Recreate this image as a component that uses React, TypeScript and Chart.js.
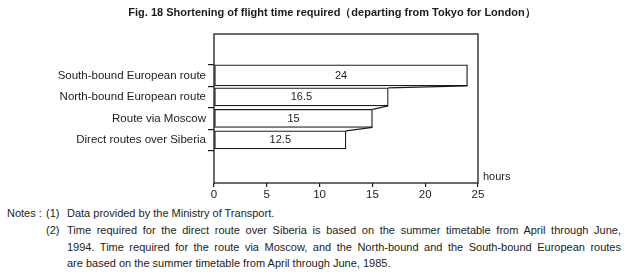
import React, { useEffect, useRef } from 'react';
import { Chart, registerables } from 'chart.js';

Chart.register(...registerables);

const TITLE = 'Fig. 18 Shortening of flight time required（departing from Tokyo for London）';
const ROUTES = [
  'South-bound European route',
  'North-bound European route',
  'Route via Moscow',
  'Direct routes over Siberia',
];
const HOURS = [24, 16.5, 15, 12.5];
const X_MIN = 0;
const X_MAX = 25;
const X_STEP = 5;
const UNIT_LABEL = 'hours';
const NOTE_HEAD = 'Notes :';
const NOTE_1 = 'Data provided by the Ministry of Transport.';
const NOTE_2A = 'Time required for the direct route over Siberia is based on the summer timetable from April through June,';
const NOTE_2B = '1994.  Time required for the route via Moscow, and the North-bound and the South-bound European routes';
const NOTE_2C = 'are based on the summer timetable from April through June, 1985.';

const INK = '#1c1c1c';
const FONT = '"Liberation Sans", Arial, sans-serif';

const framePlugin = {
  id: 'frameAndLabels',
  beforeDatasetsDraw(chart: any) {
    const { ctx, chartArea: a } = chart;
    ctx.save();
    ctx.strokeStyle = INK;
    ctx.lineWidth = 1.3;
    ctx.strokeRect(a.left, a.top, a.right - a.left, a.bottom - a.top);
    ctx.restore();
  },
  afterDatasetsDraw(chart: any) {
    const { ctx, chartArea: a } = chart;
    const bars: any[] = [];
    chart.data.datasets.forEach((ds: any, di: number) => {
      chart.getDatasetMeta(di).data.forEach((el: any, i: number) => {
        const p = el.getProps(['x', 'y', 'base', 'height'], true);
        bars.push({ ...p, v: ds.data[i].x });
      });
    });
    bars.sort((p, q) => p.y - q.y);
    ctx.save();
    ctx.strokeStyle = INK;
    ctx.lineWidth = 1.3;
    for (let i = 0; i < bars.length - 1; i++) {
      const b = bars[i];
      const n = bars[i + 1];
      ctx.beginPath();
      ctx.moveTo(b.x, b.y + b.height / 2);
      ctx.lineTo(n.x, n.y - n.height / 2);
      ctx.stroke();
    }
    ctx.fillStyle = INK;
    ctx.font = `11px ${FONT}`;
    ctx.textAlign = 'center';
    ctx.textBaseline = 'middle';
    bars.forEach((b) => {
      ctx.fillText(String(b.v), (b.base + b.x) / 2, b.y + 0.5);
    });
    ctx.textAlign = 'left';
    ctx.fillText(UNIT_LABEL, a.right + 5, a.bottom - 6);
    ctx.restore();
  },
};

function ChartBox() {
  const ref = useRef<HTMLCanvasElement | null>(null);
  useEffect(() => {
    if (!ref.current) return;
    const points = HOURS.map((h, i) => ({ x: h, y: i }));
    const chart = new Chart(ref.current, {
      type: 'bar',
      data: {
        datasets: [
          {
            data: points.slice(0, 1),
            backgroundColor: '#ffffff',
            borderColor: INK,
            borderWidth: 1.3,
            borderSkipped: false,
            barThickness: 21,
          } as any,
          {
            data: points.slice(1),
            backgroundColor: '#ffffff',
            borderColor: INK,
            borderWidth: 1.3,
            borderSkipped: false,
            barThickness: 18,
          } as any,
        ],
      },
      options: {
        indexAxis: 'y',
        responsive: false,
        animation: false,
        devicePixelRatio: 1,
        grouped: false,
        layout: { padding: { top: 34, right: 154, left: 0, bottom: 0 } },
        plugins: {
          legend: { display: false },
          tooltip: { enabled: false },
          title: { display: false },
        },
        scales: {
          x: {
            type: 'linear',
            position: 'bottom',
            min: X_MIN,
            max: X_MAX,
            ticks: {
              stepSize: X_STEP,
              color: INK,
              font: { family: FONT, size: 11.5 },
              padding: 1,
              maxRotation: 0,
            },
            grid: {
              drawOnChartArea: false,
              drawTicks: true,
              tickLength: 4,
              color: INK,
              lineWidth: 1.2,
            },
            border: { display: false },
            afterFit: (s: any) => {
              s.height = 22;
            },
          },
          y: {
            type: 'linear',
            reverse: true,
            min: -1.06,
            max: 4.14,
            afterBuildTicks: (s: any) => {
              s.ticks = ROUTES.map((_, i) => ({ value: i }));
            },
            ticks: {
              callback: (v: any) => ROUTES[v as number] ?? '',
              color: INK,
              font: { family: FONT, size: 11.5 },
              padding: 2,
              autoSkip: false,
            },
            grid: {
              drawOnChartArea: false,
              drawTicks: true,
              tickLength: 6,
              color: INK,
              lineWidth: 1.2,
            },
            border: { display: false },
            afterFit: (s: any) => {
              s.width = 214;
            },
          },
        },
      } as any,
      plugins: [framePlugin],
    });
    return () => chart.destroy();
  }, []);
  return <canvas ref={ref} width={632} height={205} style={{ position: 'absolute', left: 0, top: 0 }} />;
}

const textBase: React.CSSProperties = {
  position: 'absolute',
  fontFamily: FONT,
  fontSize: 11,
  lineHeight: '14px',
  color: INK,
  whiteSpace: 'nowrap',
};

export default function App() {
  return (
    <div style={{ position: 'fixed', left: 0, top: 0, width: 632, height: 277, background: '#fff', overflow: 'hidden' }}>
      <ChartBox />
      <div style={{ ...textBase, top: 5, left: 0, width: 664, textAlign: 'center', fontWeight: 'bold' }}>{TITLE}</div>
      <div style={{ ...textBase, top: 206, left: 7 }}>{NOTE_HEAD}</div>
      <div style={{ ...textBase, top: 206, left: 46 }}>(1)</div>
      <div style={{ ...textBase, top: 206, left: 67 }}>{NOTE_1}</div>
      <div style={{ ...textBase, top: 223, left: 46 }}>(2)</div>
      <div style={{ ...textBase, top: 223, left: 67, width: 554, textAlign: 'justify', textAlignLast: 'justify' }}>{NOTE_2A}</div>
      <div style={{ ...textBase, top: 240, left: 67, width: 554, textAlign: 'justify', textAlignLast: 'justify' }}>{NOTE_2B}</div>
      <div style={{ ...textBase, top: 256, left: 67 }}>{NOTE_2C}</div>
    </div>
  );
}
